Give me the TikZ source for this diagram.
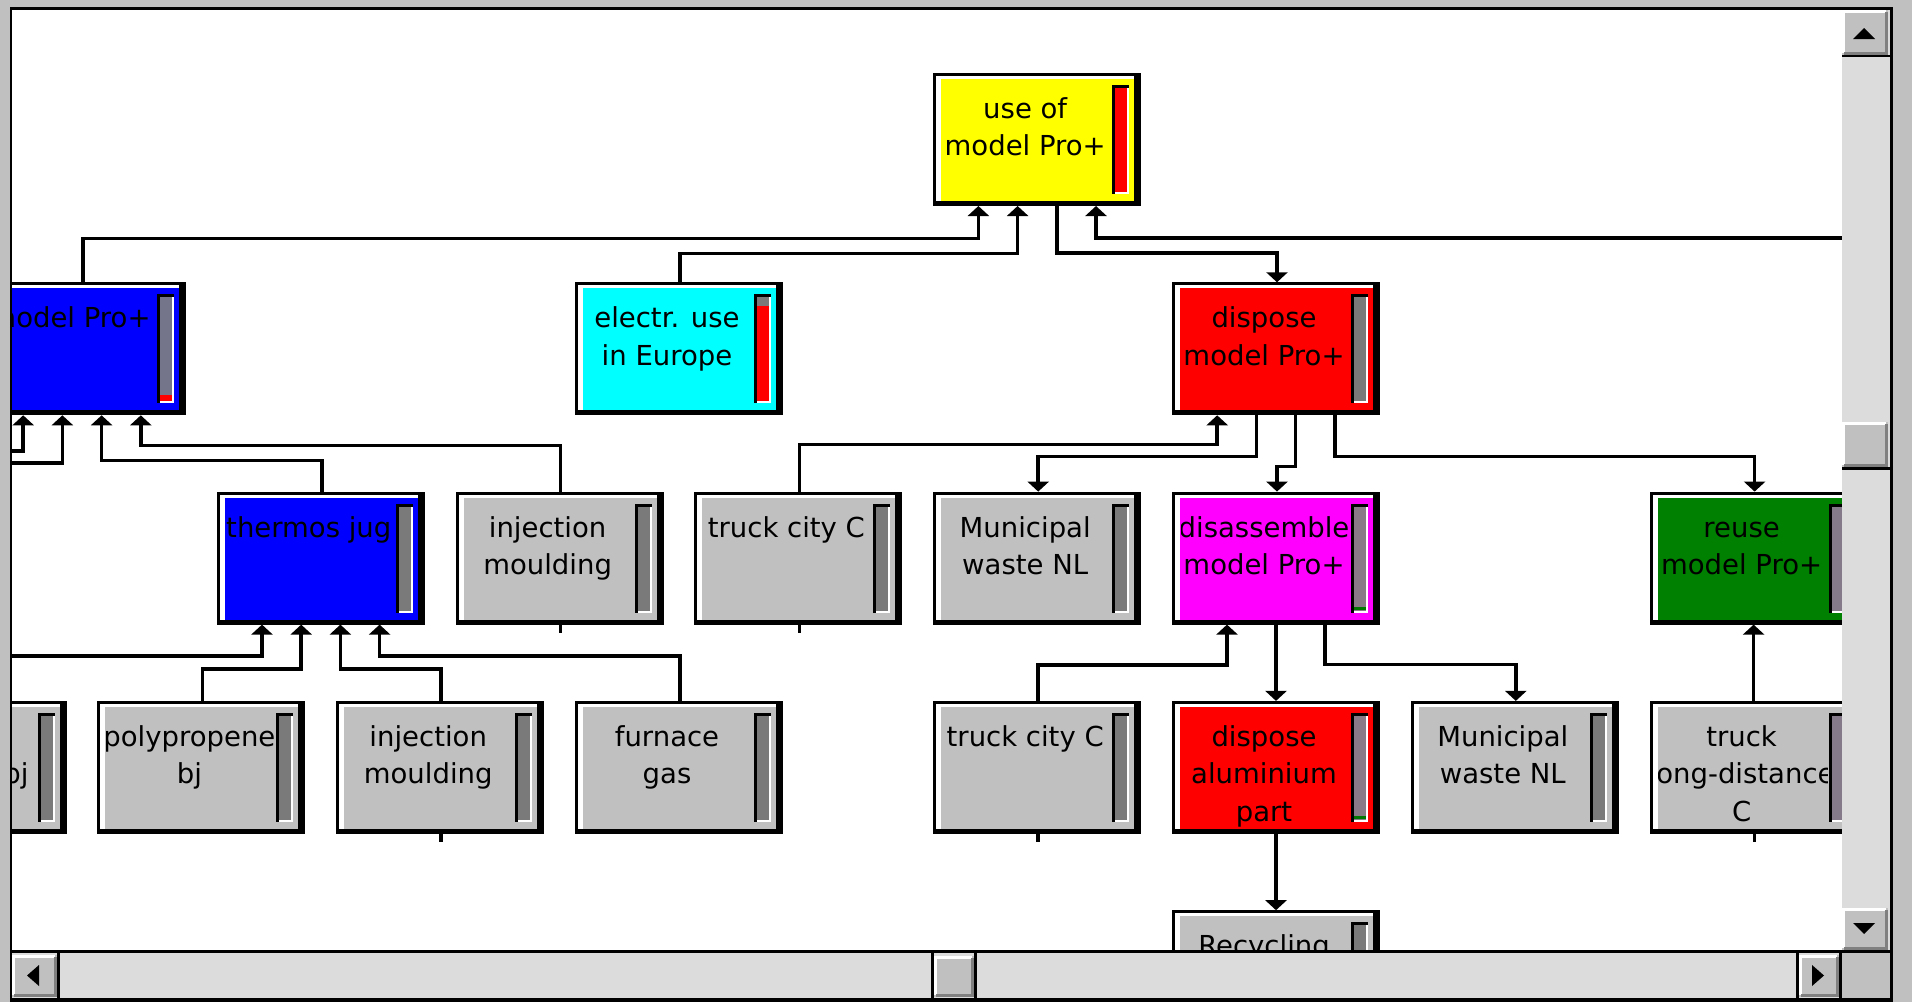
\documentclass[tikz,border=0pt]{standalone}
\usepackage{fontspec}
\newfontfamily\boxfamily{DejaVu Sans}
\usetikzlibrary{arrows.meta}

\definecolor{winGray}{HTML}{C0C0C0}
\definecolor{winDark}{HTML}{808080}
\definecolor{trackGray}{HTML}{DCDCDC}
\definecolor{pYellow}{HTML}{FFFF00}
\definecolor{pBlue}{HTML}{0000FF}
\definecolor{pCyan}{HTML}{00FFFF}
\definecolor{pRed}{HTML}{FF0000}
\definecolor{pMagenta}{HTML}{FF00FF}
\definecolor{pGreen}{HTML}{008000}
\definecolor{pGray}{HTML}{C0C0C0}
\definecolor{barGray}{HTML}{7A7A7A}
\definecolor{barBlue}{HTML}{74748A}
\definecolor{barMag}{HTML}{8A7A88}
\definecolor{barPurple}{HTML}{857A8A}
\definecolor{barGreen}{HTML}{007800}

\newcommand\boxfont{\boxfamily\fontsize{27.5}{37.5}\selectfont}

\tikzset{
  procframe/.style={rectangle, fill=black, minimum width=208pt, minimum height=133pt,
                    inner sep=0pt, outer sep=0pt},
  boxtext/.style={anchor=north, align=center, inner sep=0pt, font=\boxfont},
  conn/.style={line width=3.5pt},
  arr/.style={conn, -{Triangle[width=21pt,length=10pt]}},
}

% process box: name, column, row, fill, text, bar colour, marker colour, marker top, marker bottom
\newcommand\procbox[9]{%
  \node[procframe] (#1) at ({575+119.4*(#2)+104},{73+209.3*(#3)+66.5}) {};
  \fill[white] ([shift={(3,3)}]#1.north west) rectangle ([shift={(201,128)}]#1.north west);
  \fill[#4] ([shift={(8,6)}]#1.north west) rectangle ([shift={(201,128)}]#1.north west);
  \fill[black] ([shift={(179,12)}]#1.north west) rectangle ([shift={(196,121)}]#1.north west);
  \fill[white] ([shift={(182,15)}]#1.north west) rectangle ([shift={(196,121)}]#1.north west);
  \fill[#6] ([shift={(182,15)}]#1.north west) rectangle ([shift={(194,119)}]#1.north west);
  \fill[#7] ([shift={(182,#8)}]#1.north west) rectangle ([shift={(194,#9)}]#1.north west);
  \begin{scope}
    \clip ([shift={(9,6)}]#1.north west) rectangle ([shift={(178,128)}]#1.north west);
    \node[boxtext] (#1-text) at ([shift={(92,19)}]#1.north west) {\strut #5};
  \end{scope}
}

% raised grey button with light and dark edges
\newcommand\bevel[4]{%
  \fill[winGray] (#1,#2) rectangle (#3,#4);
  \fill[white] (#1,#2) rectangle ({#3-2},{#2+3});
  \fill[white] (#1,#2) rectangle ({#1+3},{#4-2});
  \fill[winDark] ({#1+2},{#4-3}) rectangle (#3,#4);
  \fill[winDark] ({#3-3},{#2+2}) rectangle (#3,#4);
}

\begin{document}
\begin{tikzpicture}[x=1pt,y=-1pt]
\useasboundingbox (0,0) rectangle (1912,1002);
\fill[white] (0,0) rectangle (1912,1002);

\begin{scope}
\clip (12,10) rectangle (1842,951);

% ---- processes ----
\procbox{use}{3}{0}{pYellow}{use of\\model Pro+}{pRed}{pRed}{15}{15}
\procbox{b0}{-5}{1}{pBlue}{model Pro+}{barBlue}{pRed}{113}{119}
\procbox{elec}{0}{1}{pCyan}{electr. use\\in Europe}{pRed}{barGray}{15}{24}
\procbox{disp}{5}{1}{pRed}{dispose\\model Pro+}{barGray}{barGray}{15}{15}

\procbox{thermos}{-3}{2}{pBlue}{thermos jug}{barGray}{barGray}{15}{15}
\procbox{inj1}{-1}{2}{pGray}{injection\\moulding}{barGray}{barGray}{15}{15}
\procbox{truck1}{1}{2}{pGray}{truck city C}{barGray}{barGray}{15}{15}
\procbox{muni1}{3}{2}{pGray}{Municipal\\waste NL}{barGray}{barGray}{15}{15}
\procbox{disas}{5}{2}{pMagenta}{disassemble\\model Pro+}{barMag}{barGreen}{115}{118}
\procbox{reuse}{9}{2}{pGreen}{reuse\\model Pro+}{barPurple}{barPurple}{15}{15}

\procbox{bjbox}{-6}{3}{pGray}{}{barGray}{barGray}{15}{15}
\node[boxtext, anchor=north east] (bjbox-label) at ([shift={(170,19)}]bjbox.north west) {\strut\\bj};
\procbox{poly}{-4}{3}{pGray}{polypropene\\bj}{barGray}{barGray}{15}{15}
\procbox{inj2}{-2}{3}{pGray}{injection\\moulding}{barGray}{barGray}{15}{15}
\procbox{furn}{0}{3}{pGray}{furnace\\gas}{barGray}{barGray}{15}{15}
\procbox{truck2}{3}{3}{pGray}{truck city C}{barGray}{barGray}{15}{15}
\procbox{dalu}{5}{3}{pRed}{dispose\\aluminium\\part}{barMag}{barGreen}{115}{118}
\procbox{muni2}{7}{3}{pGray}{Municipal\\waste NL}{barGray}{barGray}{15}{15}
\procbox{truckld}{9}{3}{pGray}{truck\\long-distance\\C}{barPurple}{barPurple}{15}{15}

\procbox{recyc}{5}{4}{pGray}{Recycling}{barGray}{barGray}{15}{15}

% ---- connectors ----
\coordinate (offright) at (1860,238);
\coordinate (offleftA) at (0,451);
\coordinate (offleftB) at (0,463);
\coordinate (offleftC) at (0,656);

\draw[arr] ([xshift=1pt]b0.north) -- ++(0,-44) -| ([xshift=-58.8pt]use.south);
\draw[arr] ([xshift=1pt]elec.north) -- ++(0,-29) -| ([xshift=-19.6pt]use.south);
\draw[arr] ([xshift=19.6pt]use.south) -- ++(0,47) -| ([xshift=1pt]disp.north);
\draw[arr] (offright) -| ([xshift=58.8pt]use.south);

\draw[arr] (offleftA) -| ([xshift=-58.8pt]b0.south);
\draw[arr] (offleftB) -| ([xshift=-19.6pt]b0.south);
\draw[arr] ([xshift=1pt]thermos.north) -- ++(0,-31) -| ([xshift=19.6pt]b0.south);
\draw[arr] ([xshift=1pt]inj1.north) -- ++(0,-46) -| ([xshift=58.8pt]b0.south);

\draw[arr] ([xshift=1pt]truck1.north) -- ++(0,-47) -| ([xshift=-58.8pt]disp.south);
\draw[arr] ([xshift=-19.6pt]disp.south) -- ++(0,41) -| ([xshift=1pt]muni1.north);
\draw[arr] ([xshift=19.6pt]disp.south) -- ++(0,51) -| ([xshift=1pt]disas.north);
\draw[arr] ([xshift=58.8pt]disp.south) -- ++(0,41) -| ([xshift=1pt]reuse.north);

\draw[arr] (offleftC) -| ([xshift=-58.8pt]thermos.south);
\draw[arr] ([xshift=1pt]poly.north) -- ++(0,-32) -| ([xshift=-19.6pt]thermos.south);
\draw[arr] ([xshift=1pt]inj2.north) -- ++(0,-32) -| ([xshift=19.6pt]thermos.south);
\draw[arr] ([xshift=1pt]furn.north) -- ++(0,-45) -| ([xshift=58.8pt]thermos.south);

\draw[arr] ([xshift=1pt]truck2.north) -- ++(0,-36) -| ([xshift=-49pt]disas.south);
\draw[arr] (disas.south) -- (dalu.north);
\draw[arr] ([xshift=49pt]disas.south) -- ++(0,40) -| ([xshift=1pt]muni2.north);

\draw[arr] (truckld.north) -- (reuse.south);
\draw[arr] (dalu.south) -- (recyc.north);

% collapsed sub-trees
\draw[conn] ([xshift=1pt]inj1.south) -- ++(0,8);
\draw[conn] ([xshift=1pt]truck1.south) -- ++(0,8);
\draw[conn] ([xshift=1pt]inj2.south) -- ++(0,8);
\draw[conn] ([xshift=1pt]truck2.south) -- ++(0,8);
\draw[conn] ([xshift=1pt]truckld.south) -- ++(0,8);
\end{scope}

% ---- window frame ----
\fill[winGray] (0,0) rectangle (1912,7);
\fill[winGray] (0,0) rectangle (10,1002);
\fill[winGray] (1893,0) rectangle (1912,1002);
\fill[black] (10,7) rectangle (1893,10);
\fill[black] (10,7) rectangle (12,1002);
\fill[black] (1890,7) rectangle (1893,1002);

% vertical scroll bar
\fill[trackGray] (1842,10) rectangle (1890,951);
\bevel{1842}{10}{1888}{55}
\fill[black] (1842,55) rectangle (1890,57);
\fill[black] (1853,39) -- (1875,39) -- (1864,28) -- cycle;
\bevel{1842}{422}{1888}{467}
\fill[black] (1842,467) rectangle (1890,470);
\bevel{1842}{908}{1888}{950}
\fill[black] (1853,923) -- (1875,923) -- (1864,934) -- cycle;

% horizontal scroll bar
\fill[black] (12,950) rectangle (1890,953);
\fill[trackGray] (12,953) rectangle (1842,998);
\bevel{12}{955}{57}{997}
\fill[black] (57,953) rectangle (60,998);
\fill[black] (39,965) -- (39,986) -- (27,975.5) -- cycle;
\fill[black] (931,953) rectangle (934,998);
\bevel{934}{956}{974}{997}
\fill[black] (974,953) rectangle (977,998);
\fill[black] (1796,953) rectangle (1799,998);
\bevel{1799}{955}{1839}{997}
\fill[black] (1812,965) -- (1812,986) -- (1824,975.5) -- cycle;
\fill[black] (1839,950) rectangle (1842,1002);
\fill[winGray] (1842,953) rectangle (1890,998);
\fill[black] (10,998) rectangle (1893,1002);
\end{tikzpicture}
\end{document}
